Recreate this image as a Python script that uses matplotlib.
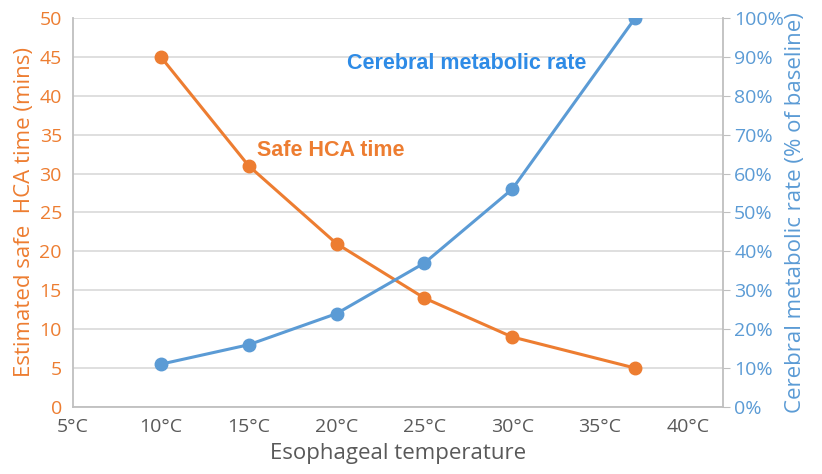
import numpy as np
import matplotlib
matplotlib.use("Agg")
import matplotlib.pyplot as plt
from matplotlib.ticker import FuncFormatter

temps = [10, 15, 20, 25, 30, 37]
safe_time = [45, 31, 21, 14, 9, 5]
metabolic_rate = [11, 16, 24, 37, 56, 100]

x_ticks = [5, 10, 15, 20, 25, 30, 35, 40]

ORANGE = "#ED7D31"
BLUE = "#5B9BD5"
GRID = "#D9D9D9"
AXIS = "#BFBFBF"
TEXT = "#595959"

plt.rcParams['font.family'] = ['Open Sans', 'DejaVu Sans']

fig = plt.figure(figsize=(8.22, 4.74), dpi=100)
ax = fig.add_axes([0.0888, 0.1414, 0.7908, 0.8206])
ax2 = ax.twinx()

ax.plot(temps, safe_time, color=ORANGE, lw=2.2, marker='o', ms=9, zorder=3)
ax2.plot(temps, metabolic_rate, color=BLUE, lw=2.2, marker='o', ms=9, zorder=3)

ax.set_xlim(5, 42)
ax.set_ylim(0, 50)
ax2.set_ylim(0, 100)
ax.set_xticks(x_ticks)
ax.set_xticklabels([f"{t}°C" for t in x_ticks])
ax.set_yticks(np.arange(0, 51, 5))
ax2.set_yticks(np.arange(0, 101, 10))
ax2.yaxis.set_major_formatter(FuncFormatter(lambda v, p: f"{int(v)}%"))

ax.grid(axis='y', color=GRID, lw=1.2)
ax.set_axisbelow(True)

for s in ['top', 'right']:
    ax.spines[s].set_visible(False)
for s in ['top', 'left', 'bottom']:
    ax2.spines[s].set_visible(False)
ax.spines['left'].set_color(AXIS)
ax.spines['bottom'].set_color(AXIS)
ax2.spines['right'].set_color(AXIS)
ax.spines['left'].set_linewidth(1.3)
ax.spines['bottom'].set_linewidth(1.3)
ax2.spines['right'].set_linewidth(1.3)

ax.tick_params(axis='x', length=0, labelsize=14, colors=TEXT, pad=8)
ax.tick_params(axis='y', length=0, labelsize=14, colors=ORANGE, pad=8)
ax2.tick_params(axis='y', length=5, labelsize=14, colors=BLUE, pad=3)
ax2.tick_params(axis='y', color=AXIS)

ax.set_xlabel("Esophageal temperature", fontsize=16, color=TEXT, labelpad=5)
ax.set_ylabel("Estimated safe  HCA time (mins)", fontsize=16, color=ORANGE, labelpad=3)
ax2.set_ylabel("Cerebral metabolic rate (% of baseline)", fontsize=16, color=BLUE, labelpad=1)

ax.text(15.5, 33, "Safe HCA time", color=ORANGE, fontsize=15.5, fontweight='bold',
        family='Liberation Sans', va='center')
ax.text(20.6, 44.2, "Cerebral metabolic rate", color="#2E8BE6", fontsize=15.5,
        fontweight='bold', family='Liberation Sans', va='center')

fig.savefig("out.png", dpi=100)
